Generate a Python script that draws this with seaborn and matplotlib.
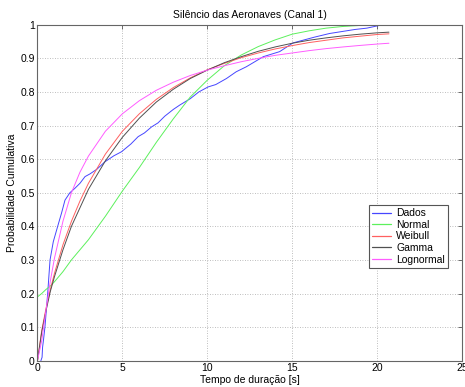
import matplotlib
matplotlib.use("Agg")
import matplotlib.pyplot as plt
from matplotlib.lines import Line2D
import seaborn as sns
import pandas as pd

# ---- data ----
x_fit = [0, 0.25, 0.5, 0.75, 1, 1.5, 2, 2.5, 3, 4, 5, 6, 7, 8, 9, 10,
         11, 12, 13, 14, 15, 16, 17, 18, 19, 20, 20.7]
y_normal = [0.19, 0.20, 0.212, 0.222, 0.235, 0.265, 0.30, 0.33, 0.36, 0.43,
            0.505, 0.575, 0.65, 0.72, 0.785, 0.835, 0.878, 0.91, 0.935,
            0.955, 0.972, 0.982, 0.99, 0.995, 0.998, 1.0, 1.0]
y_weibull = [0.0, 0.09, 0.155, 0.21, 0.26, 0.345, 0.415, 0.475, 0.528, 0.615,
             0.683, 0.735, 0.778, 0.813, 0.842, 0.866, 0.885, 0.902, 0.916,
             0.928, 0.938, 0.947, 0.954, 0.961, 0.966, 0.971, 0.973]
y_gamma = [0.0, 0.085, 0.148, 0.205, 0.25, 0.33, 0.40, 0.455, 0.51, 0.595,
           0.665, 0.722, 0.77, 0.808, 0.840, 0.865, 0.887, 0.905, 0.921,
           0.934, 0.945, 0.954, 0.961, 0.967, 0.972, 0.976, 0.978]
y_lognormal = [0.0, 0.06, 0.15, 0.235, 0.305, 0.415, 0.50, 0.561, 0.609, 0.683,
               0.735, 0.774, 0.805, 0.829, 0.849, 0.865, 0.878, 0.890, 0.900,
               0.909, 0.916, 0.923, 0.929, 0.934, 0.9385, 0.9426, 0.945]

x_dados = [0.2, 0.27, 0.3, 0.35, 0.44, 0.52, 0.6, 0.74, 0.93, 1.19, 1.42, 1.62,
           1.91, 2.2, 2.5, 2.8, 3.09, 3.5, 3.97, 4.5, 4.95, 5.5, 5.93, 6.3,
           6.72, 7.1, 7.5, 8.0, 8.38, 9.0, 9.5, 10.05, 10.5, 11.13, 11.7, 12.3,
           13.3, 14.26, 15.05, 16.3, 17.2, 18.7, 19.4, 19.95, 20.3, 20.7]
y_dados = [0.0, 0.01, 0.04, 0.06, 0.10, 0.15, 0.2, 0.30, 0.354, 0.40, 0.44, 0.478,
           0.50, 0.513, 0.528, 0.548, 0.556, 0.57, 0.592, 0.61, 0.622, 0.645,
           0.667, 0.678, 0.696, 0.708, 0.728, 0.748, 0.761, 0.78, 0.80, 0.815,
           0.822, 0.84, 0.86, 0.875, 0.905, 0.92, 0.946, 0.963, 0.974, 0.986,
           0.99, 0.996, 1.0, 1.0]

labels = ["Dados", "Normal", "Weibull", "Gamma", "Lognormal"]
colors = ["#4646ff", "#5cf05c", "#ff6060", "#505050", "#ff5cff"]

x_ticks = [0, 5, 10, 15, 20, 25]
y_ticks = [0, 0.1, 0.2, 0.3, 0.4, 0.5, 0.6, 0.7, 0.8, 0.9, 1]
y_ticklabels = ["0", "0.1", "0.2", "0.3", "0.4", "0.5", "0.6", "0.7", "0.8", "0.9", "1"]

title = "Silêncio das Aeronaves (Canal 1)"
xlabel = "Tempo de duração [s]"
ylabel = "Probabilidade Cumulativa"

# ---- plot ----
sns.set_style("white")
plt.rcParams["font.family"] = ["Liberation Sans", "DejaVu Sans"]
plt.rcParams["text.color"] = "black"
plt.rcParams["axes.labelcolor"] = "black"
plt.rcParams["xtick.color"] = "black"
plt.rcParams["ytick.color"] = "black"
fs = 7.5

fig = plt.figure(figsize=(4.65, 3.87), dpi=100)
ax = fig.add_axes([0.0806, 0.068, 0.9129, 0.868])

series = [(x_dados, y_dados), (x_fit, y_normal), (x_fit, y_weibull),
          (x_fit, y_gamma), (x_fit, y_lognormal)]
for (xs, ys), col in zip(series, colors):
    df = pd.DataFrame({"x": xs, "y": ys})
    sns.lineplot(data=df, x="x", y="y", ax=ax, color=col, linewidth=0.7,
                 sort=False, estimator=None, legend=False)

ax.set_xlim(0, 25)
ax.set_ylim(0, 1)
ax.set_xticks(x_ticks)
ax.set_xticklabels([str(t) for t in x_ticks], fontsize=fs)
ax.set_yticks(y_ticks)
ax.set_yticklabels(y_ticklabels, fontsize=fs)
ax.tick_params(direction="in", length=3, width=0.6, color="#555555",
               top=True, right=True, pad=2)
for s in ax.spines.values():
    s.set_color("#666666")
    s.set_linewidth(0.8)
    s.set_visible(True)
ax.grid(True, linestyle=(0, (1, 2)), color="#a8a8a8", linewidth=0.6)

ax.set_title(title, fontsize=fs, pad=5)
ax.set_xlabel(xlabel, fontsize=fs, labelpad=1)
ax.set_ylabel(ylabel, fontsize=fs, labelpad=2)

handles = [Line2D([], [], color=c, linewidth=0.9) for c in colors]
leg = ax.legend(handles, labels, loc="upper left", bbox_to_anchor=(0.781, 0.463),
                fontsize=fs, frameon=True, fancybox=False, framealpha=1,
                edgecolor="#555555", handlelength=1.8, handletextpad=0.5,
                labelspacing=0.15, borderpad=0.3, borderaxespad=0)
leg.get_frame().set_linewidth(0.8)

fig.savefig("out.png", dpi=100)
